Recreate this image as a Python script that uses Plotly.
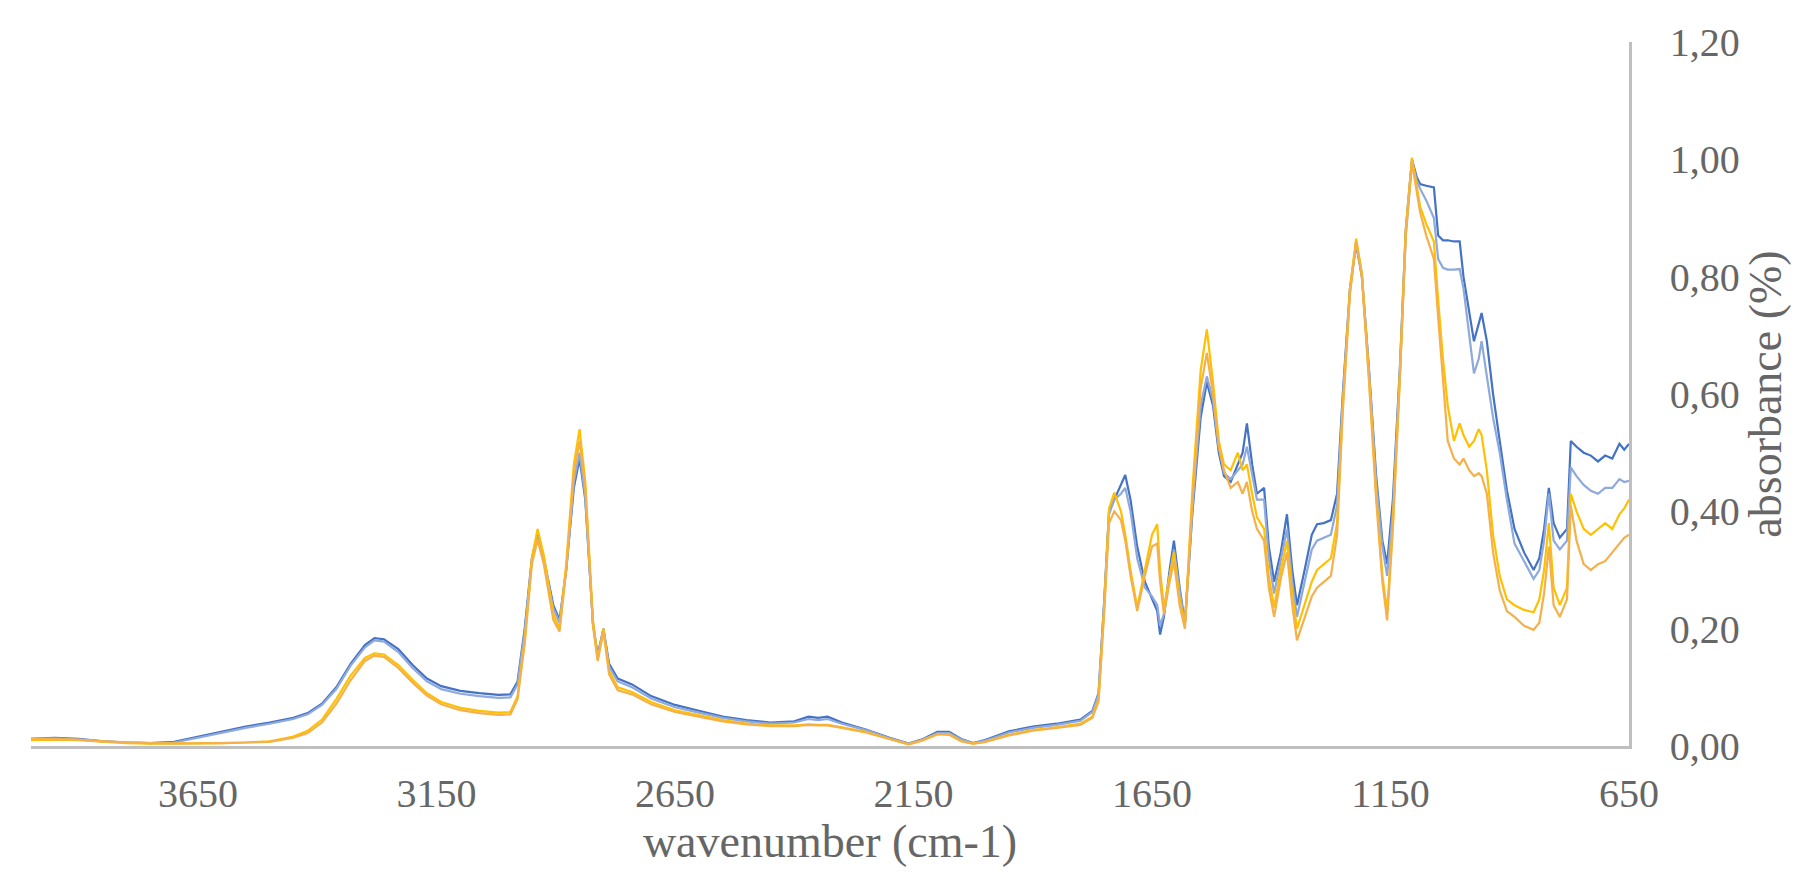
import plotly.graph_objects as go

# Wavenumbers (cm-1) and absorbance of the four spectra
wavenumber = [
    4000, 3950, 3900, 3850, 3800, 3750, 3700, 3650, 3600, 3550, 3500, 3450, 3420, 3390, 3360, 3330,
    3300, 3280, 3260, 3230, 3200, 3170, 3140, 3100, 3060, 3020, 2995, 2980, 2965, 2950, 2938, 2925,
    2905, 2892, 2878, 2862, 2850, 2838, 2822, 2812, 2800, 2788, 2770, 2740, 2700, 2650, 2600, 2550,
    2500, 2450, 2400, 2370, 2350, 2330, 2300, 2250, 2200, 2160, 2130, 2100, 2075, 2050, 2025, 2000,
    1950, 1900, 1850, 1800, 1775, 1762, 1750, 1740, 1729, 1715, 1706, 1695, 1681, 1665, 1650, 1639,
    1633, 1625, 1613, 1604, 1592, 1581, 1565, 1548, 1535, 1522, 1510, 1499, 1485, 1470, 1460, 1451,
    1440, 1430, 1415, 1405, 1394, 1380, 1367, 1356, 1346, 1330, 1315, 1304, 1290, 1275, 1262, 1250,
    1235, 1222, 1210, 1195, 1180, 1167, 1157, 1145, 1130, 1118, 1105, 1095, 1088, 1075, 1059, 1050,
    1040, 1030, 1017, 1005, 997, 985, 975, 965, 959, 948, 935, 921, 906, 890, 870, 850,
    838, 828, 818, 808, 795, 780, 772, 760, 745, 730, 715, 700, 685, 670, 660, 650,
]

sample_1 = [
    0.012, 0.014, 0.012, 0.008, 0.006, 0.005, 0.007, 0.016, 0.025, 0.033, 0.040, 0.048, 0.056, 0.072, 0.100, 0.140,
    0.172, 0.184, 0.182, 0.165, 0.138, 0.115, 0.102, 0.094, 0.090, 0.087, 0.088, 0.110, 0.200, 0.320, 0.362, 0.320,
    0.240, 0.215, 0.300, 0.440, 0.490, 0.420, 0.210, 0.155, 0.200, 0.140, 0.115, 0.105, 0.085, 0.070, 0.060, 0.050,
    0.044, 0.040, 0.042, 0.050, 0.048, 0.050, 0.040, 0.028, 0.014, 0.004, 0.012, 0.024, 0.024, 0.012, 0.005, 0.010,
    0.025, 0.033, 0.038, 0.045, 0.060, 0.090, 0.250, 0.400, 0.420, 0.445, 0.462, 0.420, 0.340, 0.280, 0.250, 0.230,
    0.190, 0.220, 0.300, 0.350, 0.270, 0.210, 0.400, 0.560, 0.620, 0.580, 0.500, 0.460, 0.450, 0.480, 0.500, 0.550,
    0.480, 0.430, 0.440, 0.340, 0.280, 0.330, 0.395, 0.300, 0.240, 0.300, 0.360, 0.378, 0.380, 0.385, 0.430, 0.600,
    0.780, 0.855, 0.800, 0.640, 0.460, 0.350, 0.310, 0.420, 0.650, 0.880, 1.000, 0.970, 0.958, 0.955, 0.952, 0.870,
    0.862, 0.862, 0.860, 0.860, 0.800, 0.740, 0.690, 0.720, 0.738, 0.690, 0.600, 0.520, 0.436, 0.370, 0.330, 0.300,
    0.320, 0.370, 0.440, 0.380, 0.355, 0.370, 0.520, 0.510, 0.500, 0.495, 0.485, 0.495, 0.490, 0.515, 0.505, 0.515,
]

sample_2 = [
    0.012, 0.013, 0.011, 0.008, 0.006, 0.005, 0.006, 0.014, 0.023, 0.031, 0.038, 0.046, 0.054, 0.070, 0.097, 0.137,
    0.168, 0.180, 0.178, 0.160, 0.133, 0.110, 0.097, 0.089, 0.085, 0.082, 0.083, 0.105, 0.195, 0.315, 0.358, 0.315,
    0.235, 0.210, 0.300, 0.450, 0.500, 0.425, 0.210, 0.150, 0.198, 0.135, 0.110, 0.100, 0.081, 0.066, 0.057, 0.048,
    0.042, 0.038, 0.040, 0.046, 0.044, 0.046, 0.038, 0.027, 0.013, 0.004, 0.011, 0.022, 0.022, 0.011, 0.005, 0.009,
    0.023, 0.031, 0.036, 0.043, 0.058, 0.088, 0.245, 0.395, 0.420, 0.430, 0.440, 0.400, 0.320, 0.270, 0.255, 0.240,
    0.205, 0.225, 0.290, 0.335, 0.265, 0.207, 0.410, 0.580, 0.630, 0.590, 0.510, 0.465, 0.455, 0.470, 0.480, 0.510,
    0.460, 0.420, 0.420, 0.320, 0.260, 0.320, 0.370, 0.280, 0.220, 0.280, 0.335, 0.350, 0.355, 0.360, 0.410, 0.590,
    0.775, 0.860, 0.805, 0.640, 0.450, 0.340, 0.290, 0.400, 0.640, 0.870, 0.995, 0.965, 0.950, 0.930, 0.900, 0.830,
    0.815, 0.812, 0.812, 0.813, 0.780, 0.700, 0.635, 0.660, 0.690, 0.630, 0.560, 0.500, 0.420, 0.345, 0.315, 0.285,
    0.300, 0.350, 0.430, 0.350, 0.335, 0.350, 0.475, 0.460, 0.445, 0.435, 0.430, 0.440, 0.440, 0.455, 0.450, 0.452,
]

sample_3 = [
    0.010, 0.011, 0.010, 0.007, 0.005, 0.004, 0.004, 0.004, 0.005, 0.006, 0.008, 0.016, 0.026, 0.045, 0.080, 0.120,
    0.150, 0.158, 0.156, 0.138, 0.113, 0.090, 0.075, 0.065, 0.060, 0.057, 0.058, 0.085, 0.180, 0.320, 0.370, 0.325,
    0.225, 0.200, 0.310, 0.480, 0.540, 0.450, 0.215, 0.148, 0.200, 0.128, 0.100, 0.092, 0.075, 0.061, 0.052, 0.044,
    0.038, 0.035, 0.035, 0.037, 0.036, 0.036, 0.032, 0.024, 0.012, 0.003, 0.010, 0.020, 0.020, 0.008, 0.004, 0.007,
    0.019, 0.027, 0.032, 0.038, 0.050, 0.080, 0.240, 0.405, 0.432, 0.400, 0.360, 0.300, 0.236, 0.300, 0.360, 0.378,
    0.300, 0.236, 0.290, 0.330, 0.250, 0.205, 0.440, 0.640, 0.710, 0.620, 0.520, 0.480, 0.470, 0.500, 0.470, 0.480,
    0.430, 0.390, 0.370, 0.290, 0.236, 0.300, 0.350, 0.260, 0.200, 0.240, 0.280, 0.300, 0.310, 0.320, 0.380, 0.580,
    0.780, 0.865, 0.805, 0.630, 0.430, 0.290, 0.230, 0.380, 0.640, 0.880, 1.003, 0.950, 0.920, 0.890, 0.860, 0.760,
    0.660, 0.580, 0.520, 0.550, 0.530, 0.510, 0.520, 0.540, 0.530, 0.470, 0.360, 0.290, 0.250, 0.240, 0.232, 0.228,
    0.250, 0.300, 0.380, 0.270, 0.240, 0.270, 0.430, 0.400, 0.370, 0.360, 0.370, 0.380, 0.370, 0.395, 0.405, 0.420,
]

sample_4 = [
    0.012, 0.012, 0.011, 0.008, 0.006, 0.005, 0.004, 0.004, 0.005, 0.006, 0.007, 0.014, 0.022, 0.040, 0.072, 0.112,
    0.145, 0.154, 0.152, 0.133, 0.108, 0.086, 0.071, 0.061, 0.056, 0.053, 0.054, 0.080, 0.175, 0.310, 0.352, 0.310,
    0.215, 0.195, 0.300, 0.465, 0.520, 0.440, 0.205, 0.145, 0.195, 0.122, 0.095, 0.088, 0.071, 0.058, 0.050, 0.042,
    0.037, 0.034, 0.034, 0.036, 0.035, 0.035, 0.031, 0.023, 0.012, 0.003, 0.010, 0.020, 0.019, 0.008, 0.004, 0.007,
    0.018, 0.026, 0.031, 0.036, 0.048, 0.076, 0.230, 0.380, 0.400, 0.385, 0.350, 0.290, 0.230, 0.290, 0.340, 0.345,
    0.280, 0.225, 0.280, 0.315, 0.240, 0.200, 0.420, 0.610, 0.670, 0.600, 0.510, 0.470, 0.440, 0.450, 0.430, 0.450,
    0.400, 0.370, 0.350, 0.270, 0.220, 0.285, 0.330, 0.240, 0.180, 0.220, 0.255, 0.270, 0.280, 0.290, 0.360, 0.570,
    0.770, 0.860, 0.800, 0.620, 0.420, 0.280, 0.214, 0.370, 0.630, 0.870, 0.995, 0.940, 0.910, 0.870, 0.830, 0.730,
    0.620, 0.520, 0.490, 0.480, 0.490, 0.470, 0.460, 0.465, 0.460, 0.430, 0.330, 0.265, 0.230, 0.220, 0.205, 0.198,
    0.210, 0.260, 0.340, 0.240, 0.220, 0.250, 0.410, 0.350, 0.310, 0.300, 0.310, 0.315, 0.330, 0.345, 0.355, 0.360,
]

series_names = ["sample 1", "sample 2", "sample 3", "sample 4"]
series_values = [sample_1, sample_2, sample_3, sample_4]
series_colors = ["#4472C4", "#8EA9DB", "#FFC000", "#F4B04A"]

x_ticks = [3650, 3150, 2650, 2150, 1650, 1150, 650]
y_ticks = [0.0, 0.2, 0.4, 0.6, 0.8, 1.0, 1.2]

fig = go.Figure()
for name, vals, col in zip(series_names, series_values, series_colors):
    fig.add_trace(go.Scatter(
        x=wavenumber, y=vals, name=name, mode="lines",
        line=dict(color=col, width=2.2),
    ))

text_color = "#666666"
font_family = "Liberation Serif, Times New Roman, serif"

fig.update_layout(
    width=1801, height=875,
    margin=dict(l=23, r=180, t=34, b=137),
    paper_bgcolor="white", plot_bgcolor="white",
    showlegend=False,
    separators=", ",
    font=dict(family=font_family, color=text_color, size=40),
)

fig.update_xaxes(
    range=[4000, 650],
    tickmode="array", tickvals=x_ticks,
    ticks="", ticklabelstandoff=10,
    tickfont=dict(family=font_family, size=40, color=text_color),
    showgrid=False, zeroline=False,
    showline=True, linecolor="#BFBFBF", linewidth=2.5,
    title=dict(text="wavenumber (cm-1)", standoff=6,
               font=dict(family=font_family, size=46, color=text_color)),
    automargin=False,
)

fig.update_yaxes(
    range=[0, 1.2], side="right",
    tickmode="array", tickvals=y_ticks, tickformat=".2f",
    ticks="", ticklabelstandoff=30,
    tickfont=dict(family=font_family, size=40, color=text_color),
    showgrid=False, zeroline=False,
    showline=True, linecolor="#BFBFBF", linewidth=2.5,
    title=dict(text="absorbance (%)", standoff=10,
               font=dict(family=font_family, size=46, color=text_color)),
    automargin=False,
)

fig.write_html("out.html")
